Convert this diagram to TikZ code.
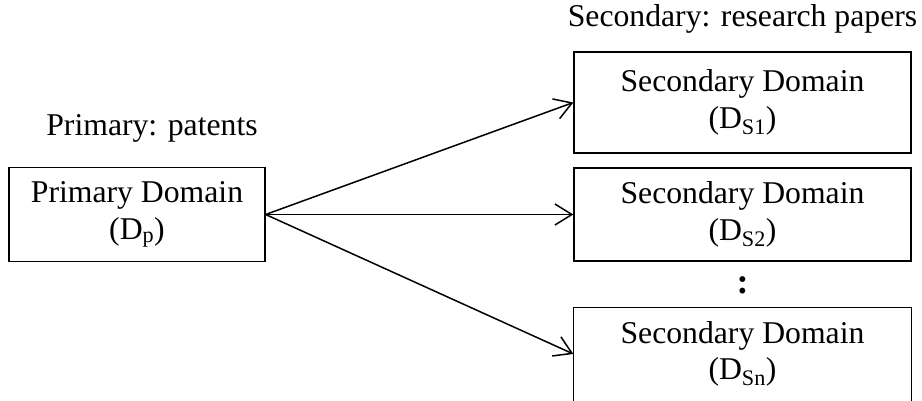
\documentclass[tikz,border=0pt]{standalone}
\usepackage{fontspec}
\setmainfont{Liberation Serif}
\usetikzlibrary{arrows.meta}
\begin{document}
\begin{tikzpicture}[x=1pt,y=-1pt,
  box/.style={draw, line width=1.3pt, inner sep=0pt, align=center,
    font=\fontsize{31.7}{36.5}\selectfont},
  lbl/.style={inner sep=0pt, font=\fontsize{31.7}{36.5}\selectfont},
  conn/.style={line width=1.5pt, -{Straight Barb[length=17pt,width=21pt,line width=1.5pt]}}]
\useasboundingbox (0,0) rectangle (922,401);
\node[box, minimum width=256pt, minimum height=94pt] (p) at (137,214.5) {Primary Domain\\(D\textsubscript{p})};
\node[box, minimum width=337pt, minimum height=101pt] (s1) at (742.5,102.5) {Secondary Domain\\(D\textsubscript{S1})};
\node[box, minimum width=337pt, minimum height=93pt] (s2) at (742.5,214.5) {Secondary Domain\\(D\textsubscript{S2})};
\node[box, draw=none, minimum width=337pt, minimum height=92pt] (s3) at (742.5,354) {Secondary Domain\\(D\textsubscript{Sn})};
\draw[line width=1.3pt] (s3.north west) rectangle ([yshift=-8pt]s3.south east);
\node[lbl, anchor=base] (lp) at (152,136) {Primary: patents};
\node[lbl, anchor=base] (ls) at (742.5,27) {Secondary: research papers};
\node[lbl, font=\fontsize{36}{40}\selectfont\bfseries] (dots) at (742.5,285) {:};
\draw[conn] (p.east) -- (s1.west);
\draw[conn] (p.east) -- (s2.west);
\draw[conn] (p.east) -- (s3.west);
\end{tikzpicture}
\end{document}
